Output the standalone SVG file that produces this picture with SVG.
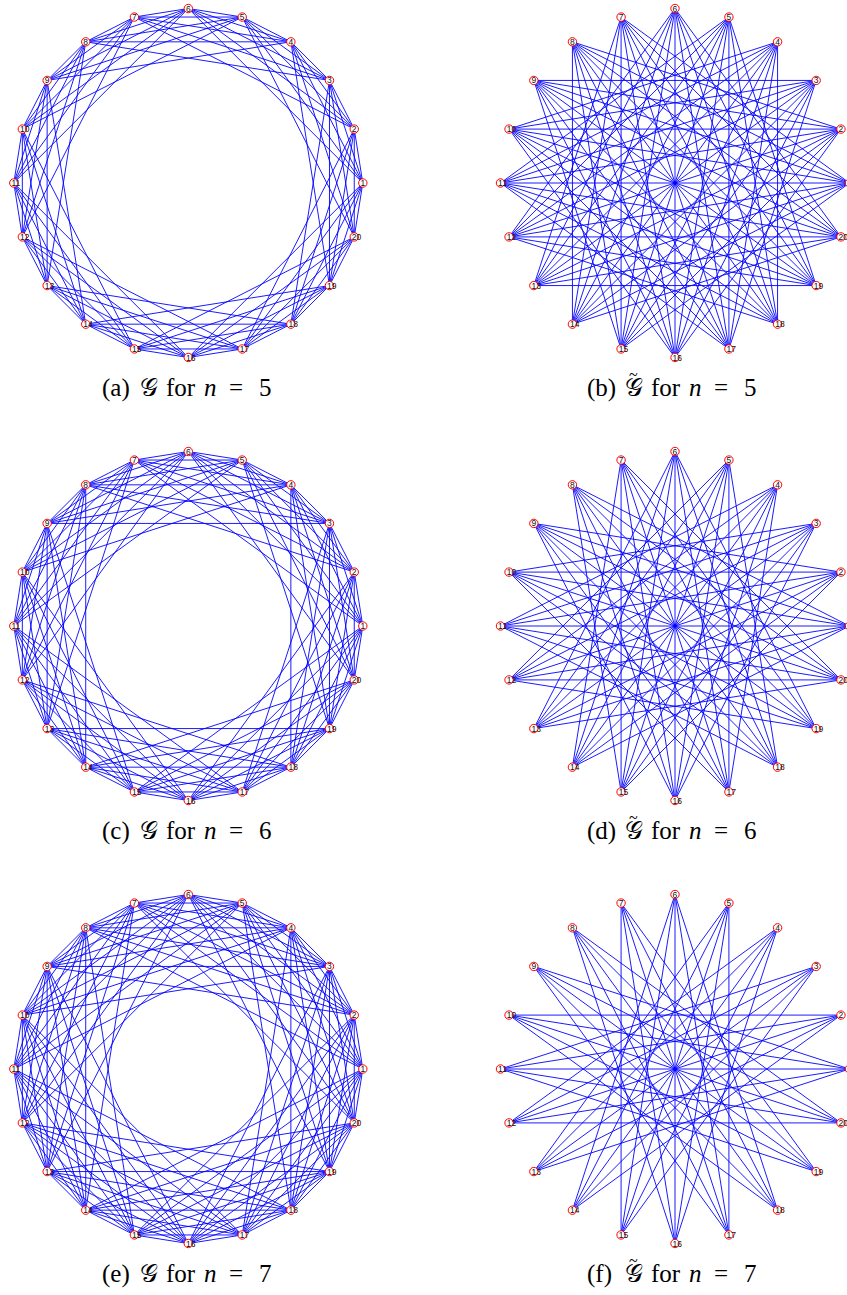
<svg xmlns="http://www.w3.org/2000/svg" xmlns:xlink="http://www.w3.org/1999/xlink" width="847" height="1295" viewBox="0 0 847 1295">
<style>
.e{fill:none;stroke:#0000ff;stroke-width:0.9;stroke-linejoin:round}
.nd circle{fill:#ffffff;stroke:#ff0000;stroke-width:1}
.nd text{font-family:"Liberation Sans",Arial,sans-serif;font-size:8.5px;fill:#111111}
.cap{font-family:"Liberation Serif","DejaVu Serif",serif;font-size:25px;fill:#000000}
.it{font-style:italic}
.tl{font-size:16px}
</style>
<defs>
<path id="d1" class="e" d="M174.5,0 L165.96,-53.92 141.17,-102.57 102.57,-141.17 53.92,-165.96 0,-174.5 -53.92,-165.96 -102.57,-141.17 -141.17,-102.57 -165.96,-53.92 -174.5,0 -165.96,53.92 -141.17,102.57 -102.57,141.17 -53.92,165.96 0,174.5 53.92,165.96 102.57,141.17 141.17,102.57 165.96,53.92 Z"/>
<path id="d2" class="e" d="M174.5,0 L141.17,-102.57 53.92,-165.96 -53.92,-165.96 -141.17,-102.57 -174.5,0 -141.17,102.57 -53.92,165.96 53.92,165.96 141.17,102.57 Z M165.96,-53.92 L102.57,-141.17 0,-174.5 -102.57,-141.17 -165.96,-53.92 -165.96,53.92 -102.57,141.17 0,174.5 102.57,141.17 165.96,53.92 Z"/>
<path id="d3" class="e" d="M174.5,0 L102.57,-141.17 -53.92,-165.96 -165.96,-53.92 -141.17,102.57 0,174.5 141.17,102.57 165.96,-53.92 53.92,-165.96 -102.57,-141.17 -174.5,0 -102.57,141.17 53.92,165.96 165.96,53.92 141.17,-102.57 0,-174.5 -141.17,-102.57 -165.96,53.92 -53.92,165.96 102.57,141.17 Z"/>
<path id="d4" class="e" d="M174.5,0 L53.92,-165.96 -141.17,-102.57 -141.17,102.57 53.92,165.96 Z M165.96,-53.92 L0,-174.5 -165.96,-53.92 -102.57,141.17 102.57,141.17 Z M141.17,-102.57 L-53.92,-165.96 -174.5,0 -53.92,165.96 141.17,102.57 Z M102.57,-141.17 L-102.57,-141.17 -165.96,53.92 0,174.5 165.96,53.92 Z"/>
<path id="d5" class="e" d="M174.5,0 L0,-174.5 -174.5,0 0,174.5 Z M165.96,-53.92 L-53.92,-165.96 -165.96,53.92 53.92,165.96 Z M141.17,-102.57 L-102.57,-141.17 -141.17,102.57 102.57,141.17 Z M102.57,-141.17 L-141.17,-102.57 -102.57,141.17 141.17,102.57 Z M53.92,-165.96 L-165.96,-53.92 -53.92,165.96 165.96,53.92 Z"/>
<path id="d6" class="e" d="M174.5,0 L-53.92,-165.96 -141.17,102.57 141.17,102.57 53.92,-165.96 -174.5,0 53.92,165.96 141.17,-102.57 -141.17,-102.57 -53.92,165.96 Z M165.96,-53.92 L-102.57,-141.17 -102.57,141.17 165.96,53.92 0,-174.5 -165.96,53.92 102.57,141.17 102.57,-141.17 -165.96,-53.92 0,174.5 Z"/>
<path id="d7" class="e" d="M174.5,0 L-102.57,-141.17 -53.92,165.96 165.96,-53.92 -141.17,-102.57 0,174.5 141.17,-102.57 -165.96,-53.92 53.92,165.96 102.57,-141.17 -174.5,0 102.57,141.17 53.92,-165.96 -165.96,53.92 141.17,102.57 0,-174.5 -141.17,102.57 165.96,53.92 -53.92,-165.96 -102.57,141.17 Z"/>
<path id="d8" class="e" d="M174.5,0 L-141.17,-102.57 53.92,165.96 53.92,-165.96 -141.17,102.57 Z M165.96,-53.92 L-165.96,-53.92 102.57,141.17 0,-174.5 -102.57,141.17 Z M141.17,-102.57 L-174.5,0 141.17,102.57 -53.92,-165.96 -53.92,165.96 Z M102.57,-141.17 L-165.96,53.92 165.96,53.92 -102.57,-141.17 0,174.5 Z"/>
<path id="d9" class="e" d="M174.5,0 L-165.96,-53.92 141.17,102.57 -102.57,-141.17 53.92,165.96 0,-174.5 -53.92,165.96 102.57,-141.17 -141.17,102.57 165.96,-53.92 -174.5,0 165.96,53.92 -141.17,-102.57 102.57,141.17 -53.92,-165.96 0,174.5 53.92,-165.96 -102.57,141.17 141.17,-102.57 -165.96,53.92 Z"/>
<path id="d10" class="e" d="M174.5,0 L-174.5,0 M165.96,-53.92 L-165.96,53.92 M141.17,-102.57 L-141.17,102.57 M102.57,-141.17 L-102.57,141.17 M53.92,-165.96 L-53.92,165.96 M0,-174.5 L0,174.5 M-53.92,-165.96 L53.92,165.96 M-102.57,-141.17 L102.57,141.17 M-141.17,-102.57 L141.17,102.57 M-165.96,-53.92 L165.96,53.92"/>
</defs>

<g id="connectors">
<g id="edges-a" transform="translate(188.3,183)"><use xlink:href="#d1"/><use xlink:href="#d2"/><use xlink:href="#d3"/><use xlink:href="#d4"/><use xlink:href="#d5"/></g>
<g id="edges-b" transform="translate(675,183)"><use xlink:href="#d6"/><use xlink:href="#d7"/><use xlink:href="#d8"/><use xlink:href="#d9"/><use xlink:href="#d10"/></g>
<g id="edges-c" transform="translate(188.3,626)"><use xlink:href="#d1"/><use xlink:href="#d2"/><use xlink:href="#d3"/><use xlink:href="#d4"/><use xlink:href="#d5"/><use xlink:href="#d6"/></g>
<g id="edges-d" transform="translate(675,626)"><use xlink:href="#d7"/><use xlink:href="#d8"/><use xlink:href="#d9"/><use xlink:href="#d10"/></g>
<g id="edges-e" transform="translate(188.3,1069)"><use xlink:href="#d1"/><use xlink:href="#d2"/><use xlink:href="#d3"/><use xlink:href="#d4"/><use xlink:href="#d5"/><use xlink:href="#d6"/><use xlink:href="#d7"/></g>
<g id="edges-f" transform="translate(675,1069)"><use xlink:href="#d8"/><use xlink:href="#d9"/><use xlink:href="#d10"/></g>
</g>

<g id="nodes-a" transform="translate(188.3,183)">
<g id="a-n1" class="nd" transform="translate(174.5,0)"><circle r="4.2"/><text x="-2.4" y="3">1</text></g>
<g id="a-n2" class="nd" transform="translate(165.96,-53.92)"><circle r="4.2"/><text x="-2.4" y="3">2</text></g>
<g id="a-n3" class="nd" transform="translate(141.17,-102.57)"><circle r="4.2"/><text x="-2.4" y="3">3</text></g>
<g id="a-n4" class="nd" transform="translate(102.57,-141.17)"><circle r="4.2"/><text x="-2.4" y="3">4</text></g>
<g id="a-n5" class="nd" transform="translate(53.92,-165.96)"><circle r="4.2"/><text x="-2.4" y="3">5</text></g>
<g id="a-n6" class="nd" transform="translate(0,-174.5)"><circle r="4.2"/><text x="-2.4" y="3">6</text></g>
<g id="a-n7" class="nd" transform="translate(-53.92,-165.96)"><circle r="4.2"/><text x="-2.4" y="3">7</text></g>
<g id="a-n8" class="nd" transform="translate(-102.57,-141.17)"><circle r="4.2"/><text x="-2.4" y="3">8</text></g>
<g id="a-n9" class="nd" transform="translate(-141.17,-102.57)"><circle r="4.2"/><text x="-2.4" y="3">9</text></g>
<g id="a-n10" class="nd" transform="translate(-165.96,-53.92)"><circle r="4.2"/><text x="-2.4" y="3">10</text></g>
<g id="a-n11" class="nd" transform="translate(-174.5,0)"><circle r="4.2"/><text x="-2.4" y="3">11</text></g>
<g id="a-n12" class="nd" transform="translate(-165.96,53.92)"><circle r="4.2"/><text x="-2.4" y="3">12</text></g>
<g id="a-n13" class="nd" transform="translate(-141.17,102.57)"><circle r="4.2"/><text x="-2.4" y="3">13</text></g>
<g id="a-n14" class="nd" transform="translate(-102.57,141.17)"><circle r="4.2"/><text x="-2.4" y="3">14</text></g>
<g id="a-n15" class="nd" transform="translate(-53.92,165.96)"><circle r="4.2"/><text x="-2.4" y="3">15</text></g>
<g id="a-n16" class="nd" transform="translate(0,174.5)"><circle r="4.2"/><text x="-2.4" y="3">16</text></g>
<g id="a-n17" class="nd" transform="translate(53.92,165.96)"><circle r="4.2"/><text x="-2.4" y="3">17</text></g>
<g id="a-n18" class="nd" transform="translate(102.57,141.17)"><circle r="4.2"/><text x="-2.4" y="3">18</text></g>
<g id="a-n19" class="nd" transform="translate(141.17,102.57)"><circle r="4.2"/><text x="-2.4" y="3">19</text></g>
<g id="a-n20" class="nd" transform="translate(165.96,53.92)"><circle r="4.2"/><text x="-2.4" y="3">20</text></g>
</g>

<g id="nodes-b" transform="translate(675,183)">
<g id="b-n1" class="nd" transform="translate(174.5,0)"><circle r="4.2"/><text x="-2.4" y="3">1</text></g>
<g id="b-n2" class="nd" transform="translate(165.96,-53.92)"><circle r="4.2"/><text x="-2.4" y="3">2</text></g>
<g id="b-n3" class="nd" transform="translate(141.17,-102.57)"><circle r="4.2"/><text x="-2.4" y="3">3</text></g>
<g id="b-n4" class="nd" transform="translate(102.57,-141.17)"><circle r="4.2"/><text x="-2.4" y="3">4</text></g>
<g id="b-n5" class="nd" transform="translate(53.92,-165.96)"><circle r="4.2"/><text x="-2.4" y="3">5</text></g>
<g id="b-n6" class="nd" transform="translate(0,-174.5)"><circle r="4.2"/><text x="-2.4" y="3">6</text></g>
<g id="b-n7" class="nd" transform="translate(-53.92,-165.96)"><circle r="4.2"/><text x="-2.4" y="3">7</text></g>
<g id="b-n8" class="nd" transform="translate(-102.57,-141.17)"><circle r="4.2"/><text x="-2.4" y="3">8</text></g>
<g id="b-n9" class="nd" transform="translate(-141.17,-102.57)"><circle r="4.2"/><text x="-2.4" y="3">9</text></g>
<g id="b-n10" class="nd" transform="translate(-165.96,-53.92)"><circle r="4.2"/><text x="-2.4" y="3">10</text></g>
<g id="b-n11" class="nd" transform="translate(-174.5,0)"><circle r="4.2"/><text x="-2.4" y="3">11</text></g>
<g id="b-n12" class="nd" transform="translate(-165.96,53.92)"><circle r="4.2"/><text x="-2.4" y="3">12</text></g>
<g id="b-n13" class="nd" transform="translate(-141.17,102.57)"><circle r="4.2"/><text x="-2.4" y="3">13</text></g>
<g id="b-n14" class="nd" transform="translate(-102.57,141.17)"><circle r="4.2"/><text x="-2.4" y="3">14</text></g>
<g id="b-n15" class="nd" transform="translate(-53.92,165.96)"><circle r="4.2"/><text x="-2.4" y="3">15</text></g>
<g id="b-n16" class="nd" transform="translate(0,174.5)"><circle r="4.2"/><text x="-2.4" y="3">16</text></g>
<g id="b-n17" class="nd" transform="translate(53.92,165.96)"><circle r="4.2"/><text x="-2.4" y="3">17</text></g>
<g id="b-n18" class="nd" transform="translate(102.57,141.17)"><circle r="4.2"/><text x="-2.4" y="3">18</text></g>
<g id="b-n19" class="nd" transform="translate(141.17,102.57)"><circle r="4.2"/><text x="-2.4" y="3">19</text></g>
<g id="b-n20" class="nd" transform="translate(165.96,53.92)"><circle r="4.2"/><text x="-2.4" y="3">20</text></g>
</g>

<g id="nodes-c" transform="translate(188.3,626)">
<g id="c-n1" class="nd" transform="translate(174.5,0)"><circle r="4.2"/><text x="-2.4" y="3">1</text></g>
<g id="c-n2" class="nd" transform="translate(165.96,-53.92)"><circle r="4.2"/><text x="-2.4" y="3">2</text></g>
<g id="c-n3" class="nd" transform="translate(141.17,-102.57)"><circle r="4.2"/><text x="-2.4" y="3">3</text></g>
<g id="c-n4" class="nd" transform="translate(102.57,-141.17)"><circle r="4.2"/><text x="-2.4" y="3">4</text></g>
<g id="c-n5" class="nd" transform="translate(53.92,-165.96)"><circle r="4.2"/><text x="-2.4" y="3">5</text></g>
<g id="c-n6" class="nd" transform="translate(0,-174.5)"><circle r="4.2"/><text x="-2.4" y="3">6</text></g>
<g id="c-n7" class="nd" transform="translate(-53.92,-165.96)"><circle r="4.2"/><text x="-2.4" y="3">7</text></g>
<g id="c-n8" class="nd" transform="translate(-102.57,-141.17)"><circle r="4.2"/><text x="-2.4" y="3">8</text></g>
<g id="c-n9" class="nd" transform="translate(-141.17,-102.57)"><circle r="4.2"/><text x="-2.4" y="3">9</text></g>
<g id="c-n10" class="nd" transform="translate(-165.96,-53.92)"><circle r="4.2"/><text x="-2.4" y="3">10</text></g>
<g id="c-n11" class="nd" transform="translate(-174.5,0)"><circle r="4.2"/><text x="-2.4" y="3">11</text></g>
<g id="c-n12" class="nd" transform="translate(-165.96,53.92)"><circle r="4.2"/><text x="-2.4" y="3">12</text></g>
<g id="c-n13" class="nd" transform="translate(-141.17,102.57)"><circle r="4.2"/><text x="-2.4" y="3">13</text></g>
<g id="c-n14" class="nd" transform="translate(-102.57,141.17)"><circle r="4.2"/><text x="-2.4" y="3">14</text></g>
<g id="c-n15" class="nd" transform="translate(-53.92,165.96)"><circle r="4.2"/><text x="-2.4" y="3">15</text></g>
<g id="c-n16" class="nd" transform="translate(0,174.5)"><circle r="4.2"/><text x="-2.4" y="3">16</text></g>
<g id="c-n17" class="nd" transform="translate(53.92,165.96)"><circle r="4.2"/><text x="-2.4" y="3">17</text></g>
<g id="c-n18" class="nd" transform="translate(102.57,141.17)"><circle r="4.2"/><text x="-2.4" y="3">18</text></g>
<g id="c-n19" class="nd" transform="translate(141.17,102.57)"><circle r="4.2"/><text x="-2.4" y="3">19</text></g>
<g id="c-n20" class="nd" transform="translate(165.96,53.92)"><circle r="4.2"/><text x="-2.4" y="3">20</text></g>
</g>

<g id="nodes-d" transform="translate(675,626)">
<g id="d-n1" class="nd" transform="translate(174.5,0)"><circle r="4.2"/><text x="-2.4" y="3">1</text></g>
<g id="d-n2" class="nd" transform="translate(165.96,-53.92)"><circle r="4.2"/><text x="-2.4" y="3">2</text></g>
<g id="d-n3" class="nd" transform="translate(141.17,-102.57)"><circle r="4.2"/><text x="-2.4" y="3">3</text></g>
<g id="d-n4" class="nd" transform="translate(102.57,-141.17)"><circle r="4.2"/><text x="-2.4" y="3">4</text></g>
<g id="d-n5" class="nd" transform="translate(53.92,-165.96)"><circle r="4.2"/><text x="-2.4" y="3">5</text></g>
<g id="d-n6" class="nd" transform="translate(0,-174.5)"><circle r="4.2"/><text x="-2.4" y="3">6</text></g>
<g id="d-n7" class="nd" transform="translate(-53.92,-165.96)"><circle r="4.2"/><text x="-2.4" y="3">7</text></g>
<g id="d-n8" class="nd" transform="translate(-102.57,-141.17)"><circle r="4.2"/><text x="-2.4" y="3">8</text></g>
<g id="d-n9" class="nd" transform="translate(-141.17,-102.57)"><circle r="4.2"/><text x="-2.4" y="3">9</text></g>
<g id="d-n10" class="nd" transform="translate(-165.96,-53.92)"><circle r="4.2"/><text x="-2.4" y="3">10</text></g>
<g id="d-n11" class="nd" transform="translate(-174.5,0)"><circle r="4.2"/><text x="-2.4" y="3">11</text></g>
<g id="d-n12" class="nd" transform="translate(-165.96,53.92)"><circle r="4.2"/><text x="-2.4" y="3">12</text></g>
<g id="d-n13" class="nd" transform="translate(-141.17,102.57)"><circle r="4.2"/><text x="-2.4" y="3">13</text></g>
<g id="d-n14" class="nd" transform="translate(-102.57,141.17)"><circle r="4.2"/><text x="-2.4" y="3">14</text></g>
<g id="d-n15" class="nd" transform="translate(-53.92,165.96)"><circle r="4.2"/><text x="-2.4" y="3">15</text></g>
<g id="d-n16" class="nd" transform="translate(0,174.5)"><circle r="4.2"/><text x="-2.4" y="3">16</text></g>
<g id="d-n17" class="nd" transform="translate(53.92,165.96)"><circle r="4.2"/><text x="-2.4" y="3">17</text></g>
<g id="d-n18" class="nd" transform="translate(102.57,141.17)"><circle r="4.2"/><text x="-2.4" y="3">18</text></g>
<g id="d-n19" class="nd" transform="translate(141.17,102.57)"><circle r="4.2"/><text x="-2.4" y="3">19</text></g>
<g id="d-n20" class="nd" transform="translate(165.96,53.92)"><circle r="4.2"/><text x="-2.4" y="3">20</text></g>
</g>

<g id="nodes-e" transform="translate(188.3,1069)">
<g id="e-n1" class="nd" transform="translate(174.5,0)"><circle r="4.2"/><text x="-2.4" y="3">1</text></g>
<g id="e-n2" class="nd" transform="translate(165.96,-53.92)"><circle r="4.2"/><text x="-2.4" y="3">2</text></g>
<g id="e-n3" class="nd" transform="translate(141.17,-102.57)"><circle r="4.2"/><text x="-2.4" y="3">3</text></g>
<g id="e-n4" class="nd" transform="translate(102.57,-141.17)"><circle r="4.2"/><text x="-2.4" y="3">4</text></g>
<g id="e-n5" class="nd" transform="translate(53.92,-165.96)"><circle r="4.2"/><text x="-2.4" y="3">5</text></g>
<g id="e-n6" class="nd" transform="translate(0,-174.5)"><circle r="4.2"/><text x="-2.4" y="3">6</text></g>
<g id="e-n7" class="nd" transform="translate(-53.92,-165.96)"><circle r="4.2"/><text x="-2.4" y="3">7</text></g>
<g id="e-n8" class="nd" transform="translate(-102.57,-141.17)"><circle r="4.2"/><text x="-2.4" y="3">8</text></g>
<g id="e-n9" class="nd" transform="translate(-141.17,-102.57)"><circle r="4.2"/><text x="-2.4" y="3">9</text></g>
<g id="e-n10" class="nd" transform="translate(-165.96,-53.92)"><circle r="4.2"/><text x="-2.4" y="3">10</text></g>
<g id="e-n11" class="nd" transform="translate(-174.5,0)"><circle r="4.2"/><text x="-2.4" y="3">11</text></g>
<g id="e-n12" class="nd" transform="translate(-165.96,53.92)"><circle r="4.2"/><text x="-2.4" y="3">12</text></g>
<g id="e-n13" class="nd" transform="translate(-141.17,102.57)"><circle r="4.2"/><text x="-2.4" y="3">13</text></g>
<g id="e-n14" class="nd" transform="translate(-102.57,141.17)"><circle r="4.2"/><text x="-2.4" y="3">14</text></g>
<g id="e-n15" class="nd" transform="translate(-53.92,165.96)"><circle r="4.2"/><text x="-2.4" y="3">15</text></g>
<g id="e-n16" class="nd" transform="translate(0,174.5)"><circle r="4.2"/><text x="-2.4" y="3">16</text></g>
<g id="e-n17" class="nd" transform="translate(53.92,165.96)"><circle r="4.2"/><text x="-2.4" y="3">17</text></g>
<g id="e-n18" class="nd" transform="translate(102.57,141.17)"><circle r="4.2"/><text x="-2.4" y="3">18</text></g>
<g id="e-n19" class="nd" transform="translate(141.17,102.57)"><circle r="4.2"/><text x="-2.4" y="3">19</text></g>
<g id="e-n20" class="nd" transform="translate(165.96,53.92)"><circle r="4.2"/><text x="-2.4" y="3">20</text></g>
</g>

<g id="nodes-f" transform="translate(675,1069)">
<g id="f-n1" class="nd" transform="translate(174.5,0)"><circle r="4.2"/><text x="-2.4" y="3">1</text></g>
<g id="f-n2" class="nd" transform="translate(165.96,-53.92)"><circle r="4.2"/><text x="-2.4" y="3">2</text></g>
<g id="f-n3" class="nd" transform="translate(141.17,-102.57)"><circle r="4.2"/><text x="-2.4" y="3">3</text></g>
<g id="f-n4" class="nd" transform="translate(102.57,-141.17)"><circle r="4.2"/><text x="-2.4" y="3">4</text></g>
<g id="f-n5" class="nd" transform="translate(53.92,-165.96)"><circle r="4.2"/><text x="-2.4" y="3">5</text></g>
<g id="f-n6" class="nd" transform="translate(0,-174.5)"><circle r="4.2"/><text x="-2.4" y="3">6</text></g>
<g id="f-n7" class="nd" transform="translate(-53.92,-165.96)"><circle r="4.2"/><text x="-2.4" y="3">7</text></g>
<g id="f-n8" class="nd" transform="translate(-102.57,-141.17)"><circle r="4.2"/><text x="-2.4" y="3">8</text></g>
<g id="f-n9" class="nd" transform="translate(-141.17,-102.57)"><circle r="4.2"/><text x="-2.4" y="3">9</text></g>
<g id="f-n10" class="nd" transform="translate(-165.96,-53.92)"><circle r="4.2"/><text x="-2.4" y="3">10</text></g>
<g id="f-n11" class="nd" transform="translate(-174.5,0)"><circle r="4.2"/><text x="-2.4" y="3">11</text></g>
<g id="f-n12" class="nd" transform="translate(-165.96,53.92)"><circle r="4.2"/><text x="-2.4" y="3">12</text></g>
<g id="f-n13" class="nd" transform="translate(-141.17,102.57)"><circle r="4.2"/><text x="-2.4" y="3">13</text></g>
<g id="f-n14" class="nd" transform="translate(-102.57,141.17)"><circle r="4.2"/><text x="-2.4" y="3">14</text></g>
<g id="f-n15" class="nd" transform="translate(-53.92,165.96)"><circle r="4.2"/><text x="-2.4" y="3">15</text></g>
<g id="f-n16" class="nd" transform="translate(0,174.5)"><circle r="4.2"/><text x="-2.4" y="3">16</text></g>
<g id="f-n17" class="nd" transform="translate(53.92,165.96)"><circle r="4.2"/><text x="-2.4" y="3">17</text></g>
<g id="f-n18" class="nd" transform="translate(102.57,141.17)"><circle r="4.2"/><text x="-2.4" y="3">18</text></g>
<g id="f-n19" class="nd" transform="translate(141.17,102.57)"><circle r="4.2"/><text x="-2.4" y="3">19</text></g>
<g id="f-n20" class="nd" transform="translate(165.96,53.92)"><circle r="4.2"/><text x="-2.4" y="3">20</text></g>
</g>

<g id="captions">
<text class="cap" y="396"><tspan x="102">(a)</tspan><tspan x="140">𝒢</tspan><tspan x="166">for</tspan><tspan x="204" class="it">n</tspan><tspan x="229">=</tspan><tspan x="259">5</tspan></text>
<text class="cap" y="396"><tspan x="587">(b)</tspan><tspan x="625">𝒢</tspan><tspan x="629" dy="-16" class="tl">~</tspan><tspan x="651" dy="16">for</tspan><tspan x="689" class="it">n</tspan><tspan x="714">=</tspan><tspan x="744">5</tspan></text>
<text class="cap" y="839"><tspan x="102">(c)</tspan><tspan x="140">𝒢</tspan><tspan x="166">for</tspan><tspan x="204" class="it">n</tspan><tspan x="229">=</tspan><tspan x="259">6</tspan></text>
<text class="cap" y="839"><tspan x="587">(d)</tspan><tspan x="625">𝒢</tspan><tspan x="629" dy="-16" class="tl">~</tspan><tspan x="651" dy="16">for</tspan><tspan x="689" class="it">n</tspan><tspan x="714">=</tspan><tspan x="744">6</tspan></text>
<text class="cap" y="1282"><tspan x="102">(e)</tspan><tspan x="140">𝒢</tspan><tspan x="166">for</tspan><tspan x="204" class="it">n</tspan><tspan x="229">=</tspan><tspan x="259">7</tspan></text>
<text class="cap" y="1282"><tspan x="587">(f)</tspan><tspan x="625">𝒢</tspan><tspan x="629" dy="-16" class="tl">~</tspan><tspan x="651" dy="16">for</tspan><tspan x="689" class="it">n</tspan><tspan x="714">=</tspan><tspan x="744">7</tspan></text>
</g>
</svg>
